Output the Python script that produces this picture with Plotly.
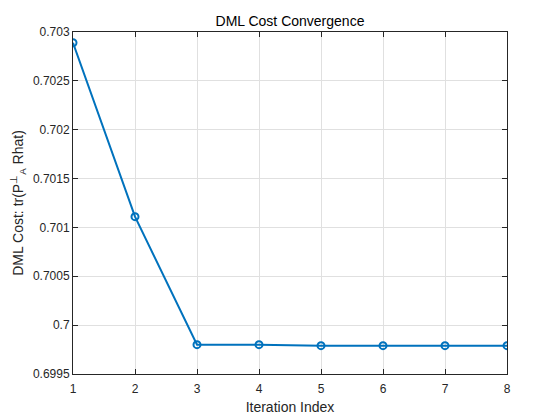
import plotly.graph_objects as go

# Iterationen und DML-Kosten
iterations = [1, 2, 3, 4, 5, 6, 7, 8]
dml_cost = [0.70289, 0.70111, 0.69980, 0.69980, 0.69979, 0.69979, 0.69979, 0.69979]

y_tickvals = [0.6995, 0.7, 0.7005, 0.701, 0.7015, 0.702, 0.7025, 0.703]
y_ticktext = ["0.6995", "0.7", "0.7005", "0.701", "0.7015", "0.702", "0.7025", "0.703"]

blue = '#0072BD'
dark = '#262626'
font = 'Liberation Sans, Arial, sans-serif'

fig = go.Figure()
fig.add_trace(go.Scatter(
    x=iterations,
    y=dml_cost,
    mode='lines+markers',
    line=dict(color=blue, width=2),
    marker=dict(symbol='circle-open', size=7, color=blue, line=dict(width=2)),
    showlegend=False,
))

axis_common = dict(
    showline=True,
    linecolor=dark,
    linewidth=1,
    mirror='ticks',
    ticks='inside',
    ticklen=5,
    tickcolor=dark,
    showgrid=True,
    gridcolor='#e0e0e0',
    gridwidth=1,
    zeroline=False,
    tickfont=dict(family=font, size=12, color=dark),
)

# body hat 8px Rand im Browser -> Ränder entsprechend verschoben
fig.update_layout(
    width=560,
    height=420,
    margin=dict(l=65, r=61, t=24, b=54),
    plot_bgcolor='white',
    paper_bgcolor='white',
    title=dict(
        text='DML Cost Convergence',
        font=dict(family=font, size=14, color='black'),
        x=0.5, xref='paper', xanchor='center',
        y=1, yref='paper', yanchor='bottom', pad=dict(b=6),
    ),
    xaxis=dict(
        range=[1, 8],
        tickvals=iterations,
        ticklabelstandoff=4,
        title=dict(text='Iteration Index', font=dict(family=font, size=14, color=dark), standoff=6),
        automargin=False,
        **axis_common,
    ),
    yaxis=dict(
        range=[0.6995, 0.703],
        tickvals=y_tickvals,
        ticktext=y_ticktext,
        title=dict(text='DML Cost: tr(P<sup>⊥</sup><sub>A</sub> Rhat)',
                   font=dict(family=font, size=14, color=dark), standoff=12),
        automargin=False,
        **axis_common,
    ),
)

fig.write_html('out.html')
